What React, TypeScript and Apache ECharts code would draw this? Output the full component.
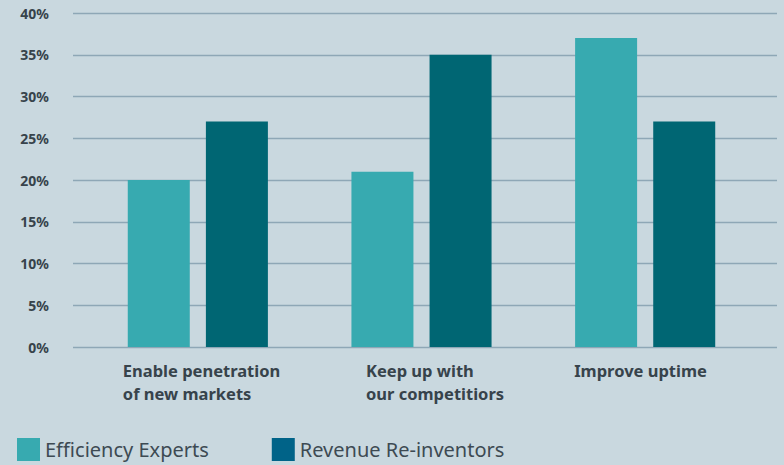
import React, { useEffect, useRef } from "react";
import * as echarts from "echarts";

const categories = [
  ["Enable penetration", "of new markets"],
  ["Keep up with", "our competitiors"],
  ["Improve uptime"],
];
const efficiencyExperts = [20, 21, 37];
const revenueReinventors = [27, 35, 27];
const yTicks = [0, 5, 10, 15, 20, 25, 30, 35, 40];
const labelShift = [20, 59, 28];

export default function App() {
  const ref = useRef<HTMLDivElement>(null);
  useEffect(() => {
    const chart = echarts.init(ref.current!, undefined, { renderer: "svg" });
    const font = "'Noto Sans', 'Open Sans', sans-serif";
    const rich: any = {};
    labelShift.forEach((s, i) => {
      rich["l" + i] = {
        width: 170,
        align: "left",
        padding: [0, 0, 0, s],
        fontSize: 16.5,
        fontWeight: "bold",
        color: "#37434b",
        fontFamily: font,
        lineHeight: 23,
      };
    });
    chart.setOption({
      animation: false,
      backgroundColor: "#c9d8df",
      textStyle: { fontFamily: font },
      grid: [
        { left: 86, right: 27, top: 13, bottom: 118 },
        { left: 73, right: 7, top: 13, bottom: 118 },
      ],
      legend: {
        left: 17,
        top: 438,
        padding: 0,
        itemWidth: 23,
        itemHeight: 23,
        itemGap: 63,
        icon: "rect",
        textStyle: { fontSize: 20, color: "#3d4a53", fontFamily: font },
        data: [
          { name: "Efficiency Experts", itemStyle: { color: "#37aab0" } },
          { name: "Revenue Re-inventors", itemStyle: { color: "#006388" } },
        ],
      },
      xAxis: [
        {
          type: "category",
          gridIndex: 0,
          data: categories.map((c) => c.join("\n")),
          axisLine: { show: false },
          axisTick: { show: false },
          axisLabel: {
            margin: 12,
            interval: 0,
            formatter: (v: string, i: number) =>
              v
                .split("\n")
                .map((line) => `{l${i}|${line}}`)
                .join("\n"),
            rich,
          },
        },
        {
          type: "category",
          gridIndex: 1,
          data: ["x"],
          show: false,
        },
      ],
      yAxis: [
        {
          type: "value",
          gridIndex: 0,
          min: 0,
          max: 40,
          interval: 5,
          show: false,
          splitLine: { show: false },
        },
        {
          type: "value",
          gridIndex: 1,
          min: yTicks[0],
          max: yTicks[yTicks.length - 1],
          interval: 5,
          axisLine: { show: false },
          axisTick: { show: false },
          axisLabel: {
            margin: 24,
            formatter: "{value}%",
            fontSize: 14,
            fontWeight: "bold",
            color: "#37434b",
            fontFamily: font,
          },
          splitLine: { lineStyle: { color: "#8ea7b6", width: 1.3 } },
        },
      ],
      series: [
        {
          name: "Efficiency Experts",
          type: "bar",
          xAxisIndex: 0,
          yAxisIndex: 0,
          data: efficiencyExperts,
          barWidth: 62,
          barGap: "26%",
          itemStyle: { color: "#37aab0" },
          z: 3,
        },
        {
          name: "Revenue Re-inventors",
          type: "bar",
          xAxisIndex: 0,
          yAxisIndex: 0,
          data: revenueReinventors,
          barWidth: 62,
          barGap: "26%",
          itemStyle: { color: "#006673" },
          z: 3,
        },
        {
          type: "bar",
          xAxisIndex: 1,
          yAxisIndex: 1,
          data: [],
          silent: true,
        },
      ],
    });
    return () => chart.dispose();
  }, []);
  return (
    <div
      ref={ref}
      style={{ position: "fixed", left: 0, top: 0, width: 784, height: 465 }}
    />
  );
}
